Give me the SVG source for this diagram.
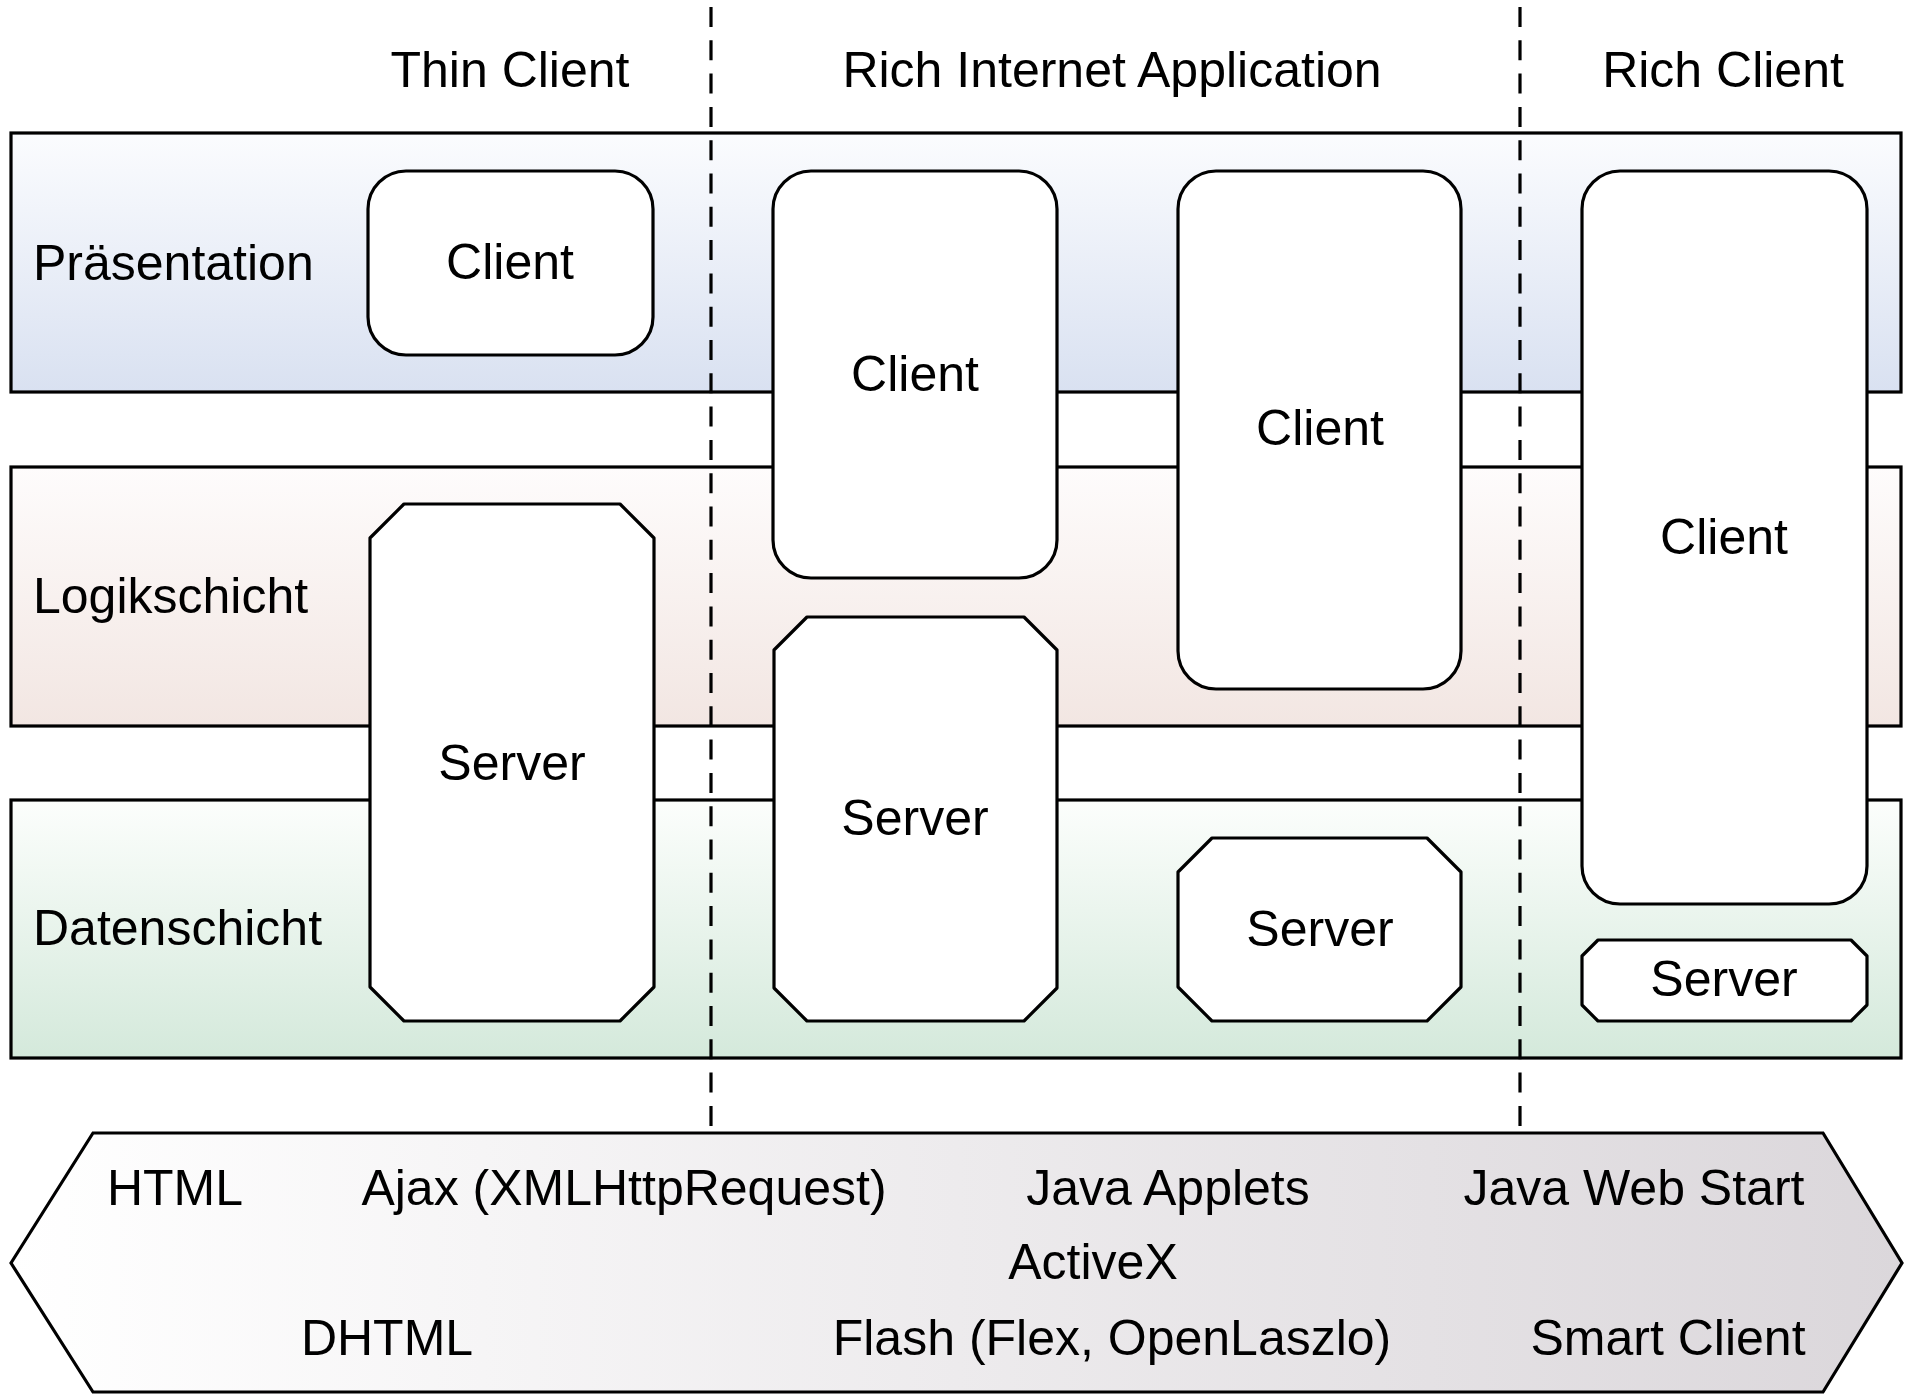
<svg xmlns="http://www.w3.org/2000/svg" width="1912" height="1400" viewBox="0 0 1912 1400">
<defs>
<linearGradient id="gBlue" x1="0" y1="0" x2="0" y2="1"><stop offset="0" stop-color="#fbfcfe"/><stop offset="1" stop-color="#d9e1f1"/></linearGradient>
<linearGradient id="gRed" x1="0" y1="0" x2="0" y2="1"><stop offset="0" stop-color="#fefcfc"/><stop offset="1" stop-color="#f2e6e2"/></linearGradient>
<linearGradient id="gGreen" x1="0" y1="0" x2="0" y2="1"><stop offset="0" stop-color="#fcfefc"/><stop offset="1" stop-color="#d4e9db"/></linearGradient>
<linearGradient id="gArrow" x1="0" y1="0" x2="1" y2="0"><stop offset="0" stop-color="#ffffff"/><stop offset="1" stop-color="#dbd7db"/></linearGradient>
</defs>
<style>
text{font-family:"Liberation Sans",Arial,Helvetica,sans-serif;font-size:50px;fill:#000}
.band{stroke:#000;stroke-width:3.2}
.node{fill:#fff;stroke:#000;stroke-width:3.2;stroke-linejoin:round}
.c{text-anchor:middle}
.sep{stroke:#000;stroke-width:3.2;stroke-dasharray:20 13.3;fill:none}
</style>
<rect width="1912" height="1400" fill="#fff"/>
<g id="headers">
<text class="c" x="510" y="87">Thin Client</text>
<text class="c" x="1112" y="87">Rich Internet Application</text>
<text class="c" x="1723" y="87">Rich Client</text>
</g>
<g id="band-praesentation">
<rect class="band" x="11" y="133" width="1890" height="259" fill="url(#gBlue)"/>
<text x="33" y="280">Präsentation</text>
</g>
<g id="band-logik">
<rect class="band" x="11" y="467" width="1890" height="259" fill="url(#gRed)"/>
<text x="33" y="613">Logikschicht</text>
</g>
<g id="band-daten">
<rect class="band" x="11" y="800" width="1890" height="258" fill="url(#gGreen)"/>
<text x="33" y="945">Datenschicht</text>
</g>
<g id="connectors">
<line class="sep" x1="711" y1="7" x2="711" y2="1127"/>
<line class="sep" x1="1520" y1="7" x2="1520" y2="1127"/>
</g>
<g id="thin-client">
<rect class="node" x="368" y="171" width="285" height="184" rx="38" ry="38"/>
<text class="c" x="510" y="279">Client</text>
</g>
<g id="thin-server">
<polygon class="node" points="404,504 620,504 654,538 654,987 620,1021 404,1021 370,987 370,538"/>
<text class="c" x="512" y="780">Server</text>
</g>
<g id="ria-client-1">
<rect class="node" x="773" y="171" width="284" height="407" rx="38" ry="38"/>
<text class="c" x="915" y="391">Client</text>
</g>
<g id="ria-server-1">
<polygon class="node" points="807,617 1024,617 1057,650 1057,988 1024,1021 807,1021 774,988 774,650"/>
<text class="c" x="915" y="835">Server</text>
</g>
<g id="ria-client-2">
<rect class="node" x="1178" y="171" width="283" height="518" rx="38" ry="38"/>
<text class="c" x="1320" y="445">Client</text>
</g>
<g id="ria-server-2">
<polygon class="node" points="1212,838 1427,838 1461,872 1461,987 1427,1021 1212,1021 1178,987 1178,872"/>
<text class="c" x="1320" y="946">Server</text>
</g>
<g id="rich-client">
<rect class="node" x="1582" y="171" width="285" height="733" rx="38" ry="38"/>
<text class="c" x="1724" y="554">Client</text>
</g>
<g id="rich-server">
<polygon class="node" points="1598,940 1851,940 1867,956 1867,1005 1851,1021 1598,1021 1582,1005 1582,956"/>
<text class="c" x="1724" y="996">Server</text>
</g>
<g id="technologies">
<polygon points="11,1263 93,1133 1823,1133 1902,1263 1823,1392 93,1392" fill="url(#gArrow)" stroke="#000" stroke-width="3.2" stroke-linejoin="miter"/>
<text class="c" x="175" y="1205">HTML</text>
<text class="c" x="624" y="1205">Ajax (XMLHttpRequest)</text>
<text class="c" x="1168" y="1205">Java Applets</text>
<text class="c" x="1634" y="1205">Java Web Start</text>
<text class="c" x="1093" y="1279">ActiveX</text>
<text class="c" x="387" y="1355">DHTML</text>
<text class="c" x="1112" y="1355">Flash (Flex, OpenLaszlo)</text>
<text class="c" x="1668" y="1355">Smart Client</text>
</g>
</svg>
